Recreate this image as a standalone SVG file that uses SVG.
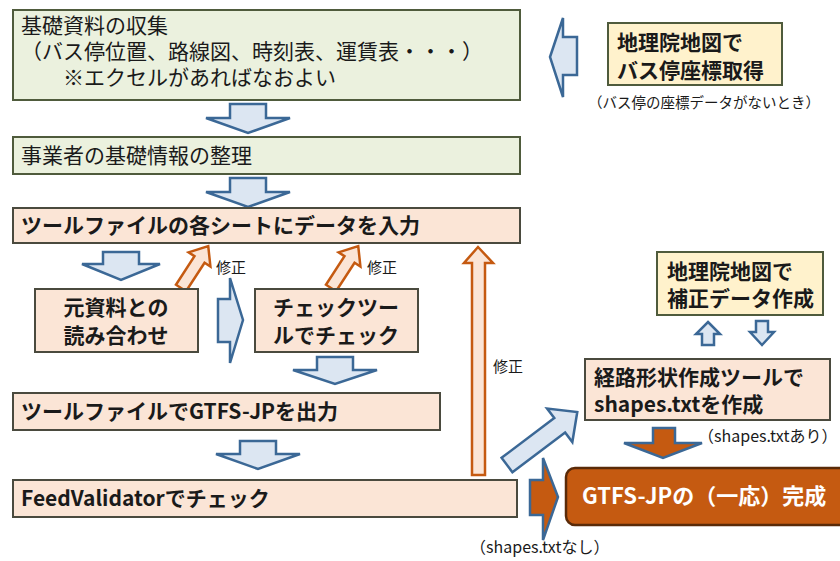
<svg xmlns="http://www.w3.org/2000/svg" width="840" height="561" viewBox="0 0 840 561">
<defs>
<style>
.green{fill:#EBF1DE;stroke:#4F5B3C;stroke-width:2}
.peach{fill:#FBE5D6;stroke:#4A4A3E;stroke-width:2}
.yellow{fill:#FFF2CC;stroke:#4F5B3C;stroke-width:2}
.final{fill:#C55A11;stroke:#5A2A08;stroke-width:2.5}
.barrow{fill:#DCE6F2;stroke:#3B6896;stroke-width:2.5;stroke-linejoin:miter}
.oarrow{fill:#FBE5D6;stroke:#C55A11;stroke-width:2.5}
.farrow{fill:#C55A11;stroke:#3B6896;stroke-width:2.5}
text{font-family:"Noto Sans CJK JP","Noto Sans",sans-serif;fill:#1a1a1a}
.reg{font-size:21px;font-weight:400}
.bold{font-size:21px;font-weight:700}
.small{font-size:14.5px;font-weight:400}
.lbl{font-size:15px;font-weight:400}
.shp{font-size:16px;font-weight:400}
.white{fill:#ffffff;font-size:22px;font-weight:700}
</style>
</defs>
<rect width="840" height="561" fill="#ffffff"/>

<g id="connectors">
  <polygon class="barrow" points="550,57 563,18 563,37 577,37 577,75 563,75 563,97"/>
  <polygon class="barrow" points="230,104 266,104 266,118 290,118 248,133 206,118 230,118"/>
  <polygon class="barrow" points="230,178 266,178 266,192 290,192 248,207 206,192 230,192"/>
  <polygon class="barrow" points="103,252 139,252 139,264 160,264 121,280 82,264 103,264"/>
  <polygon class="barrow" points="317,357 353,357 353,370 377,370 335,384 293,370 317,370"/>
  <polygon class="barrow" points="240,441 276,441 276,454 300,454 258,469 216,454 240,454"/>
  <polygon class="barrow" points="218,299 230,299 230,278 243,320 230,363 230,342 218,342"/>
  <g transform="translate(181,288) rotate(-57)">
    <polygon class="oarrow" points="0,-6 34,-6 34,-13 50,0 34,13 34,6 0,6"/>
  </g>
  <g transform="translate(331,288) rotate(-57)">
    <polygon class="oarrow" points="0,-6 34,-6 34,-13 50,0 34,13 34,6 0,6"/>
  </g>
  <polygon class="oarrow" points="472,475 472,263 464,263 478,247 493,263 485,263 485,475"/>
  <g transform="translate(507,465) rotate(-37)">
    <polygon class="barrow" points="0,-9 66,-9 66,-21 88,0 66,21 66,9 0,9"/>
  </g>
  <polygon class="barrow" points="708,322 720,334 714,334 714,345 702,345 702,334 696,334"/>
  <polygon class="barrow" points="756,321 768,321 768,332 774,332 762,345 750,332 756,332"/>
  <polygon class="farrow" points="653,428 675,428 675,443 702,443 663,458 624,443 653,443"/>
  <polygon class="farrow" points="530,480 543,480 543,458 558,497 543,540 543,515 530,515"/>
</g>

<g id="box1">
  <rect class="green" x="13" y="10" width="507" height="90"/>
  <text class="reg" x="21" y="33">基礎資料の収集</text>
  <text class="reg" x="21" y="59">（バス停位置、路線図、時刻表、運賃表・・・）</text>
  <text class="reg" x="63" y="85">※エクセルがあればなおよい</text>
</g>

<g id="box-gsi-stop">
  <rect class="yellow" x="608" y="23" width="174" height="62"/>
  <text class="bold" x="617" y="50">地理院地図で</text>
  <text class="bold" x="617" y="78">バス停座標取得</text>
</g>
<g id="caption-stop">
  <text class="small" x="588" y="108">（バス停の座標データがないとき）</text>
</g>

<g id="box2">
  <rect class="green" x="13" y="137" width="507" height="37"/>
  <text class="reg" x="21" y="163">事業者の基礎情報の整理</text>
</g>

<g id="box3">
  <rect class="peach" x="13" y="208" width="507" height="35"/>
  <text class="bold" x="21" y="233">ツールファイルの各シートにデータを入力</text>
</g>

<g id="box-read">
  <rect class="peach" x="35" y="289" width="163" height="63"/>
  <text class="bold" x="116" y="315" text-anchor="middle">元資料との</text>
  <text class="bold" x="116" y="343" text-anchor="middle">読み合わせ</text>
</g>

<g id="box-check">
  <rect class="peach" x="255" y="289" width="163" height="63"/>
  <text class="bold" x="273" y="315">チェックツー</text>
  <text class="bold" x="273" y="343">ルでチェック</text>
</g>

<g id="label-fix1"><text class="lbl" x="216" y="273">修正</text></g>
<g id="label-fix2"><text class="lbl" x="367" y="273">修正</text></g>
<g id="label-fix3"><text class="lbl" x="493" y="372">修正</text></g>

<g id="box-output">
  <rect class="peach" x="13" y="393" width="427" height="37"/>
  <text class="bold" x="21" y="419">ツールファイルでGTFS-JPを出力</text>
</g>

<g id="box-feed">
  <rect class="peach" x="13" y="480" width="504" height="37"/>
  <text class="bold" x="21" y="506">FeedValidatorでチェック</text>
</g>

<g id="box-gsi-fix">
  <rect class="yellow" x="657" y="252" width="166" height="63"/>
  <text class="bold" x="667" y="279">地理院地図で</text>
  <text class="bold" x="667" y="306">補正データ作成</text>
</g>

<g id="box-shape">
  <rect class="peach" x="585" y="359" width="245" height="61"/>
  <text class="bold" x="594" y="385">経路形状作成ツールで</text>
  <text class="bold" x="594" y="412">shapes.txtを作成</text>
</g>

<g id="label-with"><text class="shp" x="698" y="442">（shapes.txtあり）</text></g>
<g id="label-without"><text class="shp" x="470" y="553">（shapes.txtなし）</text></g>

<g id="box-final">
  <rect class="final" x="566" y="468" width="284" height="57" rx="9"/>
  <text class="white" x="582" y="504">GTFS-JPの（一応）完成</text>
</g>
</svg>
